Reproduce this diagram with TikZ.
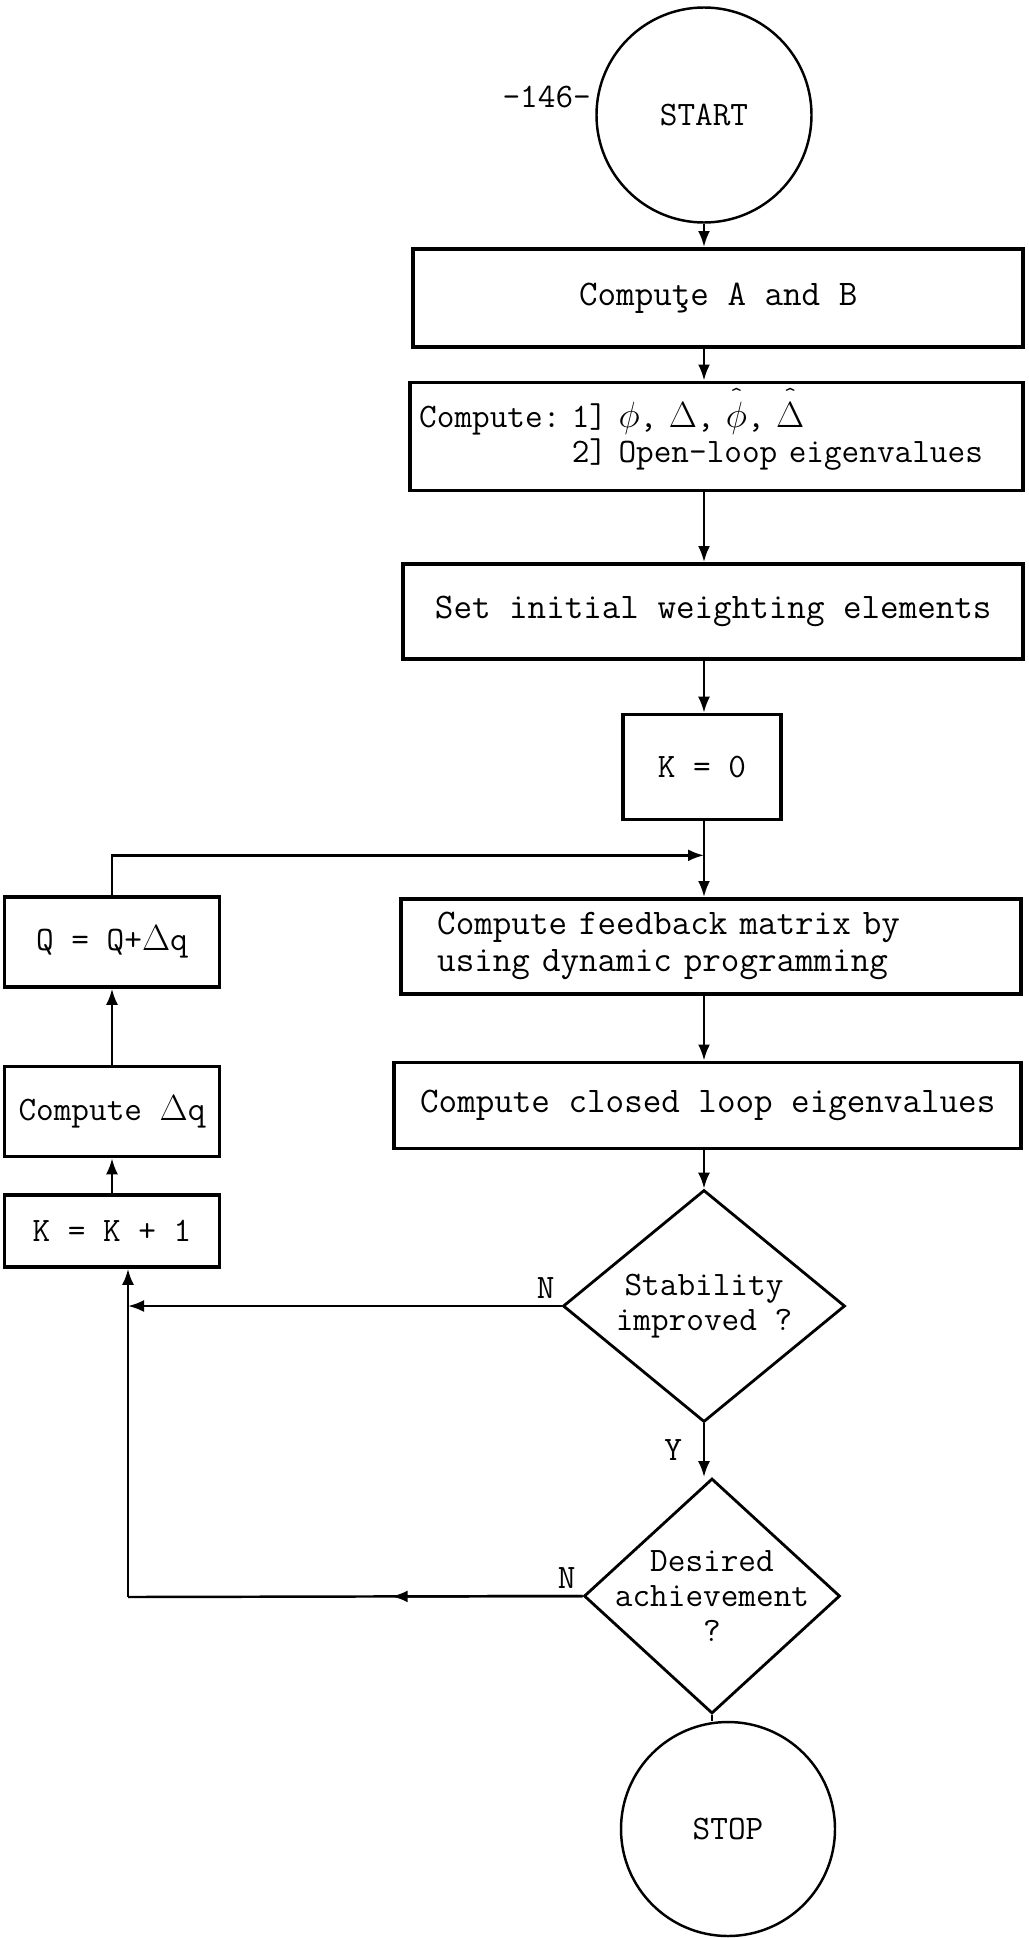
\documentclass[tikz,border=0pt]{standalone}
\usepackage{fontspec}
\usetikzlibrary{arrows.meta,calc,positioning,shapes.geometric}
\tikzset{box/.style={draw,line width=2pt,align=center,inner sep=2pt,font=\ttfamily\frenchspacing\fontsize{19.5}{20}\selectfont},
  wide/.style={font=\ttfamily\frenchspacing\fontsize{20.5}{21}\selectfont},
  arr/.style={-{Latex[length=3.2mm,width=2.4mm]},line width=1.4pt}}
\newcommand\hatc[1]{\ooalign{#1\cr\hidewidth\raisebox{.72em}{\fontsize{13}{13}\selectfont\textasciicircum}\hidewidth\cr}}

\begin{document}
\begin{tikzpicture}[x=0.2mm,y=-0.2mm,
  term/.style={circle,draw,line width=1.4pt,inner sep=0pt,font=\ttfamily\fontsize{19.5}{20}\selectfont},
  decision/.style={diamond,draw,line width=1.6pt,inner sep=0pt},
  tag/.style={font=\ttfamily\fontsize{19.5}{20}\selectfont}]
\useasboundingbox (0,0) rectangle (1029,1938);
\node[term,minimum size=43mm] (start) at (704,115) {START};
\node[tag,anchor=east] (page) at (597,97) {-146-};
\node[box,wide,anchor=north east,minimum width=122mm,minimum height=19.6mm] (abox) at (1025,247) {Compuţe A and B};
\node[box,below=6.4mm of abox.south east,anchor=north east,minimum height=21.6mm,text width=119mm,inner xsep=1.8mm,align=left] (phibox)
  {Compute: 1] $\phi$, $\Delta$, \hatc{$\phi$}, \hatc{$\Delta$}\\\phantom{Compute: }2] Open-loop eigenvalues};
\node[box,wide,below=14mm of phibox.south east,anchor=north east,minimum width=124mm,minimum height=19mm] (setbox) {Set initial weighting elements};
\node[box,minimum width=31.6mm,minimum height=21mm] (kzero) at (702,767) {K = 0};
\node[box,wide,anchor=north east,minimum height=19mm,text width=109.6mm,align=left,inner xsep=7.2mm] (fbbox) at (1023,897)
  {Compute feedback matrix by\\using dynamic programming};
\node[box,wide,below=13mm of fbbox.south east,anchor=north east,minimum width=125.4mm,minimum height=17.2mm] (clbox) {Compute closed loop eigenvalues};
\node[decision,minimum width=56.4mm,minimum height=46.4mm] (stab) at (704,1306) {};
\node[tag,align=center] (stabtext) at (stab) {Stability\\improved ?};
\node[decision,minimum width=51.2mm,minimum height=47mm] (des) at (712,1596) {};
\node[tag,align=center] (destext) at (des) {Desired\\achievement\\?};
\node[term,minimum size=42.8mm] (stop) at (728,1829) {STOP};
\node[box,minimum width=43mm,minimum height=18mm] (qbox) at (112,942) {Q = Q+$\Delta$q};
\node[box,below=15.2mm of qbox,minimum width=43mm,minimum height=18mm] (dqbox) {Compute $\Delta$q};
\node[box,below=7mm of dqbox,minimum width=43mm,minimum height=14.4mm] (kone) {K = K + 1};
\coordinate (join) at ($(start |- kzero.south)!.45!(start |- fbbox.north)$);
\coordinate (back) at (128,1597);
\draw[arr] (start) -- (start |- abox.north);
\draw[arr] (start |- abox.south) -- (start |- phibox.north);
\draw[arr] (start |- phibox.south) -- (start |- setbox.north);
\draw[arr] (start |- setbox.south) -- (start |- kzero.north);
\draw[arr] (start |- kzero.south) -- (start |- fbbox.north);
\draw[arr] (qbox.north) |- (join);
\draw[arr] (start |- fbbox.south) -- (start |- clbox.north);
\draw[arr] (stab |- clbox.south) -- (stab);
\draw[arr] (stab) -- node[left=3mm,tag]{Y} (stab.south |- des.north);
\draw[line width=1.4pt] (des.south) -- (des.south |- stop.north);
\draw[arr] (dqbox) -- (qbox);
\draw[arr] (kone) -- (dqbox);
\draw[arr] (stab.west) node[above left,tag]{N} -- (back |- stab.west);
\draw[line width=1.4pt] (des.west) -- (back);
\draw[arr] (des.west) node[above left,tag]{N} -- ($(des.west)!.42!(back)$);
\draw[arr] (back) -- (back |- kone.south);
\end{tikzpicture}
\end{document}
